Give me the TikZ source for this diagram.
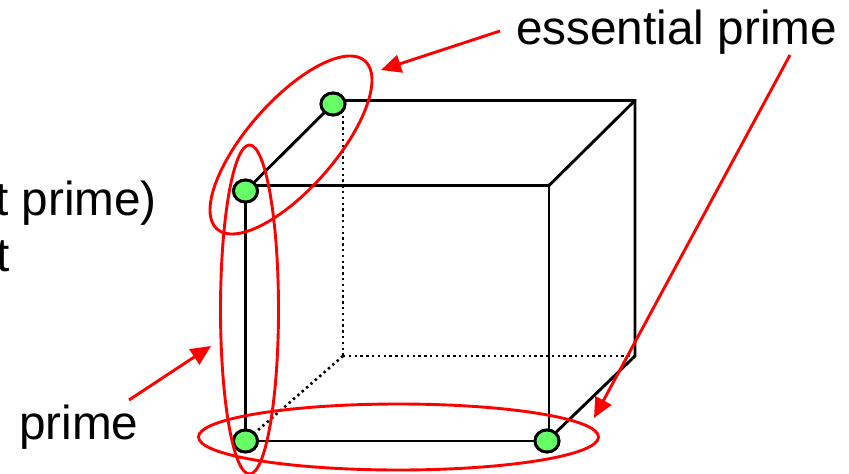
\documentclass[tikz,border=0pt]{standalone}
\usepackage{fontspec}
\setmainfont{Liberation Sans}
\usetikzlibrary{arrows.meta,shapes.geometric}
\definecolor{vgreen}{HTML}{66FF66}
\tikzset{
  edge/.style={draw=black,line width=2.9pt},
  hidden/.style={draw=black,line width=2.6pt,dash pattern=on 2.4pt off 3.4pt},
  vertex/.style={ellipse,draw=black,line width=2.9pt,fill=vgreen,minimum width=24pt,minimum height=22pt,inner sep=0pt},
  ring/.style={ellipse,draw=red,line width=2.9pt,inner sep=0pt},
  pointer/.style={draw=red,line width=2.9pt,-{Triangle[length=20pt,width=18pt]}},
  lbl/.style={font=\fontsize{47.7}{50}\selectfont,text=black,inner sep=0pt}
}
\begin{document}
\begin{tikzpicture}[x=1pt,y=-1pt]
\useasboundingbox (0,0) rectangle (849,474);
\coordinate (btr) at (635,100.5);
\coordinate (ftr) at (549,185.5);
\coordinate (bbr) at (635,356);
\coordinate (bbl) at (343,356);
\coordinate (btl) at (343,104);
\coordinate (a1) at (500,31);
\coordinate (a1t) at (381,70);
\coordinate (a2) at (790,55);
\coordinate (a2t) at (594,418);
\coordinate (a3) at (129,400);
\coordinate (a3t) at (211,346);
\node[vertex] (A) at (333,104) {};
\node[vertex] (B) at (245.5,191) {};
\node[vertex] (C) at (245.5,441) {};
\node[vertex] (D) at (547,441) {};
\draw[hidden] (btl) -- (bbl);
\draw[hidden] (bbl) -- (bbr);
\draw[hidden] (bbl) -- (C);
\draw[edge,line join=miter] (A) -- (335,100.5) -- (btr) -- (bbr) -- (D);
\draw[edge] (btr) -- (ftr);
\draw[edge] (B) -- (245.5,185.5) -- (ftr) -- (549,430);
\draw[edge] (A) -- (B);
\draw[edge] (B) -- (C);
\draw[edge] (C) -- (D);
\node[vertex] at (A) {};
\node[vertex] at (B) {};
\node[vertex] at (C) {};
\node[vertex] at (D) {};
\node[ring,minimum width=224pt,minimum height=88pt,rotate=48.7] (r1) at (291,145) {};
\node[ring,minimum width=58pt,minimum height=329pt] (r2) at (249.5,309.5) {};
\node[ring,minimum width=400pt,minimum height=66pt] (r3) at (398.5,437) {};
\draw[pointer] (a1) -- (a1t);
\draw[pointer] (a2) -- (a2t);
\draw[pointer] (a3) -- (a3t);
\node[lbl,anchor=base west] (t1) at (516,44) {essential prime};
\node[lbl,anchor=base west] (t2) at (19,439) {prime};
\node[lbl,anchor=base east] (t3) at (157,215) {t prime)};
\node[lbl,anchor=base east] (t4) at (10,271) {t};
\end{tikzpicture}
\end{document}
